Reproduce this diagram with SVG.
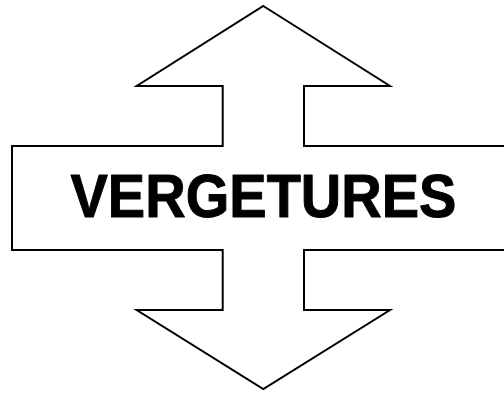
<svg xmlns="http://www.w3.org/2000/svg" width="504" height="393" viewBox="0 0 504 393">
<style>
.outline{fill:#fff;stroke:#000;stroke-width:2;stroke-linejoin:miter}
.label{font-family:"Liberation Sans",Arial,sans-serif;font-weight:bold;font-size:62px;fill:#000;stroke:#000;stroke-width:1;stroke-linejoin:round}
</style>
<rect width="504" height="393" fill="#fff"/>
<g id="arrow-shape">
<path class="outline" d="M263.3,6 L390,86 L304,86 L304,146 L510,146 L510,250 L304,250 L304,310 L390,310 L263.3,389 L136.7,310 L222.7,310 L222.7,250 L12,250 L12,146 L222.7,146 L222.7,86 L136.7,86 Z"/>
</g>
<g id="label">
<text class="label" x="263.5" y="217" text-anchor="middle" textLength="386" lengthAdjust="spacingAndGlyphs">VERGETURES</text>
</g>
<g id="connectors"></g>
</svg>
